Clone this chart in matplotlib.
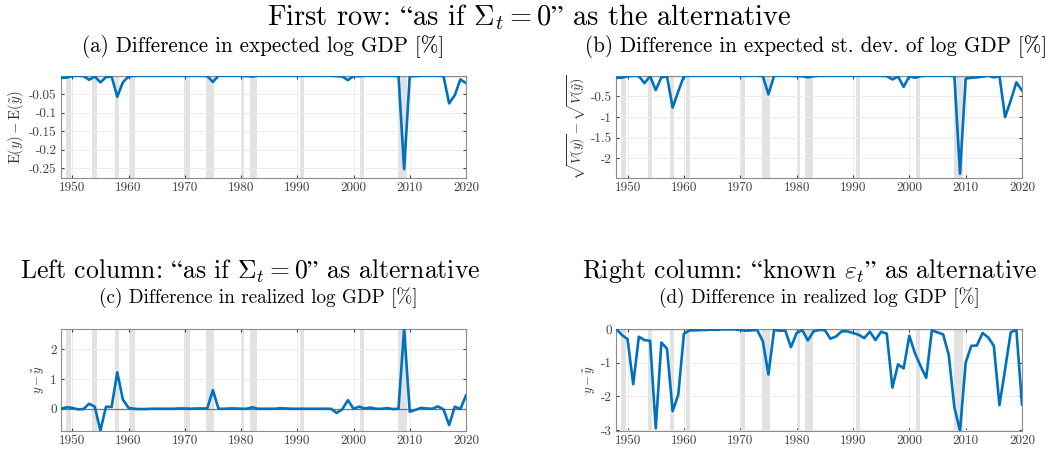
import numpy as np
import matplotlib
matplotlib.use("Agg")
import matplotlib.pyplot as plt
from matplotlib.ticker import FuncFormatter

plt.rcParams['font.family'] = ['cmr10', 'DejaVu Serif']
plt.rcParams['mathtext.fontset'] = 'cm'
plt.rcParams['axes.unicode_minus'] = False

years = list(range(1948, 2021))

# NBER recessions (start, end) as fractional years
rec_start = [1948.9, 1953.55, 1957.6, 1960.3, 1969.95, 1973.85, 1980.0, 1981.55, 1990.55, 2001.2, 2007.95, 2020.1]
rec_end = [1949.8, 1954.4, 1958.3, 1961.15, 1970.9, 1975.2, 1980.55, 1982.9, 1991.2, 2001.9, 2009.5, 2020.35]

# (a) difference in expected log GDP
exp_diff = [-0.006, -0.005, -0.001, 0.0, -0.001, -0.011, -0.002, -0.018, -0.004, -0.002, -0.057, -0.018, -0.002,
            0, 0, 0, 0, 0, 0, 0, 0, 0, 0, 0, 0, 0,
            -0.001, -0.017, 0, 0, 0, 0, 0, -0.001, -0.002, 0,
            0, 0, 0, 0, 0, 0, 0, 0, 0, 0, 0, 0, 0,
            -0.001, -0.002, -0.012, -0.001, -0.001, 0, 0, 0, 0, 0, 0, -0.001,
            -0.253, -0.001, -0.001, 0, 0, 0, 0, -0.001, -0.075, -0.053, -0.010, -0.020]

# (b) difference in expected st. dev. of log GDP
sd_diff = [-0.05, -0.05, -0.01, 0, -0.01, -0.18, -0.01, -0.35, -0.04, -0.02, -0.77, -0.38, -0.01,
           0, 0, 0, 0, 0, 0, 0, 0, 0, 0, 0, 0, 0,
           -0.01, -0.45, 0, 0, 0, 0, -0.01, -0.01, -0.04, -0.01,
           0, 0, 0, 0, 0, 0, 0, 0, 0, 0, 0, 0,
           -0.01, -0.09, -0.02, -0.27, -0.01, -0.05, -0.01, 0, 0, 0, 0, 0, -0.01,
           -2.37, -0.07, -0.05, -0.04, -0.02, 0, -0.04, -0.01, -1.0, -0.6, -0.16, -0.36]

# (c) realized log GDP, "as if Sigma_t = 0"
real_c = [0.0, 0.05, 0.03, -0.02, -0.01, 0.17, 0.07, -0.74, 0.07, 0.06, 1.23, 0.31, 0.03,
          0, -0.01, -0.01, 0, 0, 0, 0, 0, 0.01, 0.01, 0, 0.01, 0.01,
          0.01, 0.63, 0.0, 0, 0.01, 0.01, 0.0, 0.0, 0.05, 0.0,
          0, 0, 0, 0.02, 0.01, 0, 0, 0, 0, 0, 0, 0, 0.0,
          -0.14, -0.02, 0.29, 0.0, 0.07, 0.01, 0.04, 0.0, 0.0, 0.02, -0.01, 0.0,
          2.69, -0.1, -0.04, 0.03, 0.01, 0.0, 0.08, -0.02, -0.55, 0.07, -0.01, 0.45]

# (d) realized log GDP, "known eps_t"
real_d = [0.0, -0.18, -0.3, -1.64, -0.23, -0.33, -0.35, -2.95, -0.4, -0.59, -2.44, -1.95, -0.14,
          -0.04, -0.04, -0.03, -0.03, -0.02, -0.02, -0.01, -0.01, -0.01, -0.03, -0.05, -0.04, -0.03,
          -0.36, -1.35, -0.03, -0.05, -0.05, -0.54, -0.12, -0.03, -0.34, -0.07,
          -0.03, -0.03, -0.29, -0.22, -0.07, -0.07, -0.12, -0.17, -0.27, -0.08, -0.33, -0.08, -0.14,
          -1.74, -1.05, -1.17, -0.2, -0.72, -1.1, -1.45, -0.04, -0.1, -0.16, -0.77, -2.33,
          -3.02, -1.0, -0.5, -0.49, -0.12, -0.25, -0.5, -2.26, -1.2, -0.1, -0.02, -2.24]

xticks = [1950, 1960, 1970, 1980, 1990, 2000, 2010, 2020]
W, H = 1058, 454


def panel(rect, y, ylim, yticks, ylabel, ylsize):
    l, t, r, b = rect
    ax = fig.add_axes([l / W, 1 - b / H, (r - l) / W, (b - t) / H])
    for s, e in zip(rec_start, rec_end):
        ax.axvspan(s, e, color='#e2e2e2', lw=0, zorder=0)
    ax.axhline(0, color='0.45', lw=0.9, zorder=1)
    ax.plot(years, y, color='#0072BD', lw=1.9, zorder=3)
    ax.set_xlim(1948, 2020)
    ax.set_ylim(*ylim)
    ax.set_xticks(xticks)
    ax.set_yticks(yticks)
    ax.yaxis.set_major_formatter(FuncFormatter(lambda v, p: '{:g}'.format(v)))
    ax.grid(True, color='#ececec', lw=0.7, zorder=0)
    ax.set_axisbelow(True)
    ax.tick_params(direction='in', length=2.5, labelsize=9.5, colors='0.25',
                   top=True, right=True, pad=3)
    for sp in ax.spines.values():
        sp.set_color('0.55')
        sp.set_linewidth(0.8)
    ax.set_ylabel(ylabel, fontsize=ylsize, color='0.2', labelpad=2)
    return ax


fig = plt.figure(figsize=(W / 100, H / 100), dpi=100)

panel((61, 75.7, 466, 178), exp_diff, (-0.277, 0), [-0.25, -0.2, -0.15, -0.1, -0.05],
      r'$\mathrm{E}(y) - \mathrm{E}(\tilde{y})$', 10.5)
panel((616.3, 75.7, 1022, 177.5), sd_diff, (-2.46, 0), [-2, -1.5, -1, -0.5],
      r'$\sqrt{V(y)} - \sqrt{V(\tilde{y})}$', 10)
panel((61, 329, 466, 430.7), real_c, (-0.74, 2.69), [0, 1, 2],
      r'$y - \tilde{y}$', 9)
panel((616.3, 329, 1022, 430.7), real_d, (-3.02, 0), [-3, -2, -1, 0],
      r'$y - \tilde{y}$', 9)

fig.text(529 / W, 1 - 17 / H, r'First row: $“$as if $\Sigma_t = 0$$”$ as the alternative',
         ha='center', va='center', fontsize=20.5)
fig.text(263 / W, 1 - 46 / H, '(a) Difference in expected log GDP [%]',
         ha='center', va='center', fontsize=15.2)
fig.text(816 / W, 1 - 46 / H, '(b) Difference in expected st. dev. of log GDP [%]',
         ha='center', va='center', fontsize=15.2)
fig.text(250 / W, 1 - 271 / H, r'Left column: $“$as if $\Sigma_t = 0$$”$ as alternative',
         ha='center', va='center', fontsize=18.5)
fig.text(258 / W, 1 - 298 / H, '(c) Difference in realized log GDP [%]',
         ha='center', va='center', fontsize=13.8)
fig.text(810 / W, 1 - 271 / H, r'Right column: $“$known $\varepsilon_t$$”$ as alternative',
         ha='center', va='center', fontsize=18.5)
fig.text(819 / W, 1 - 298 / H, '(d) Difference in realized log GDP [%]',
         ha='center', va='center', fontsize=13.8)

fig.savefig('out.png', dpi=100)
